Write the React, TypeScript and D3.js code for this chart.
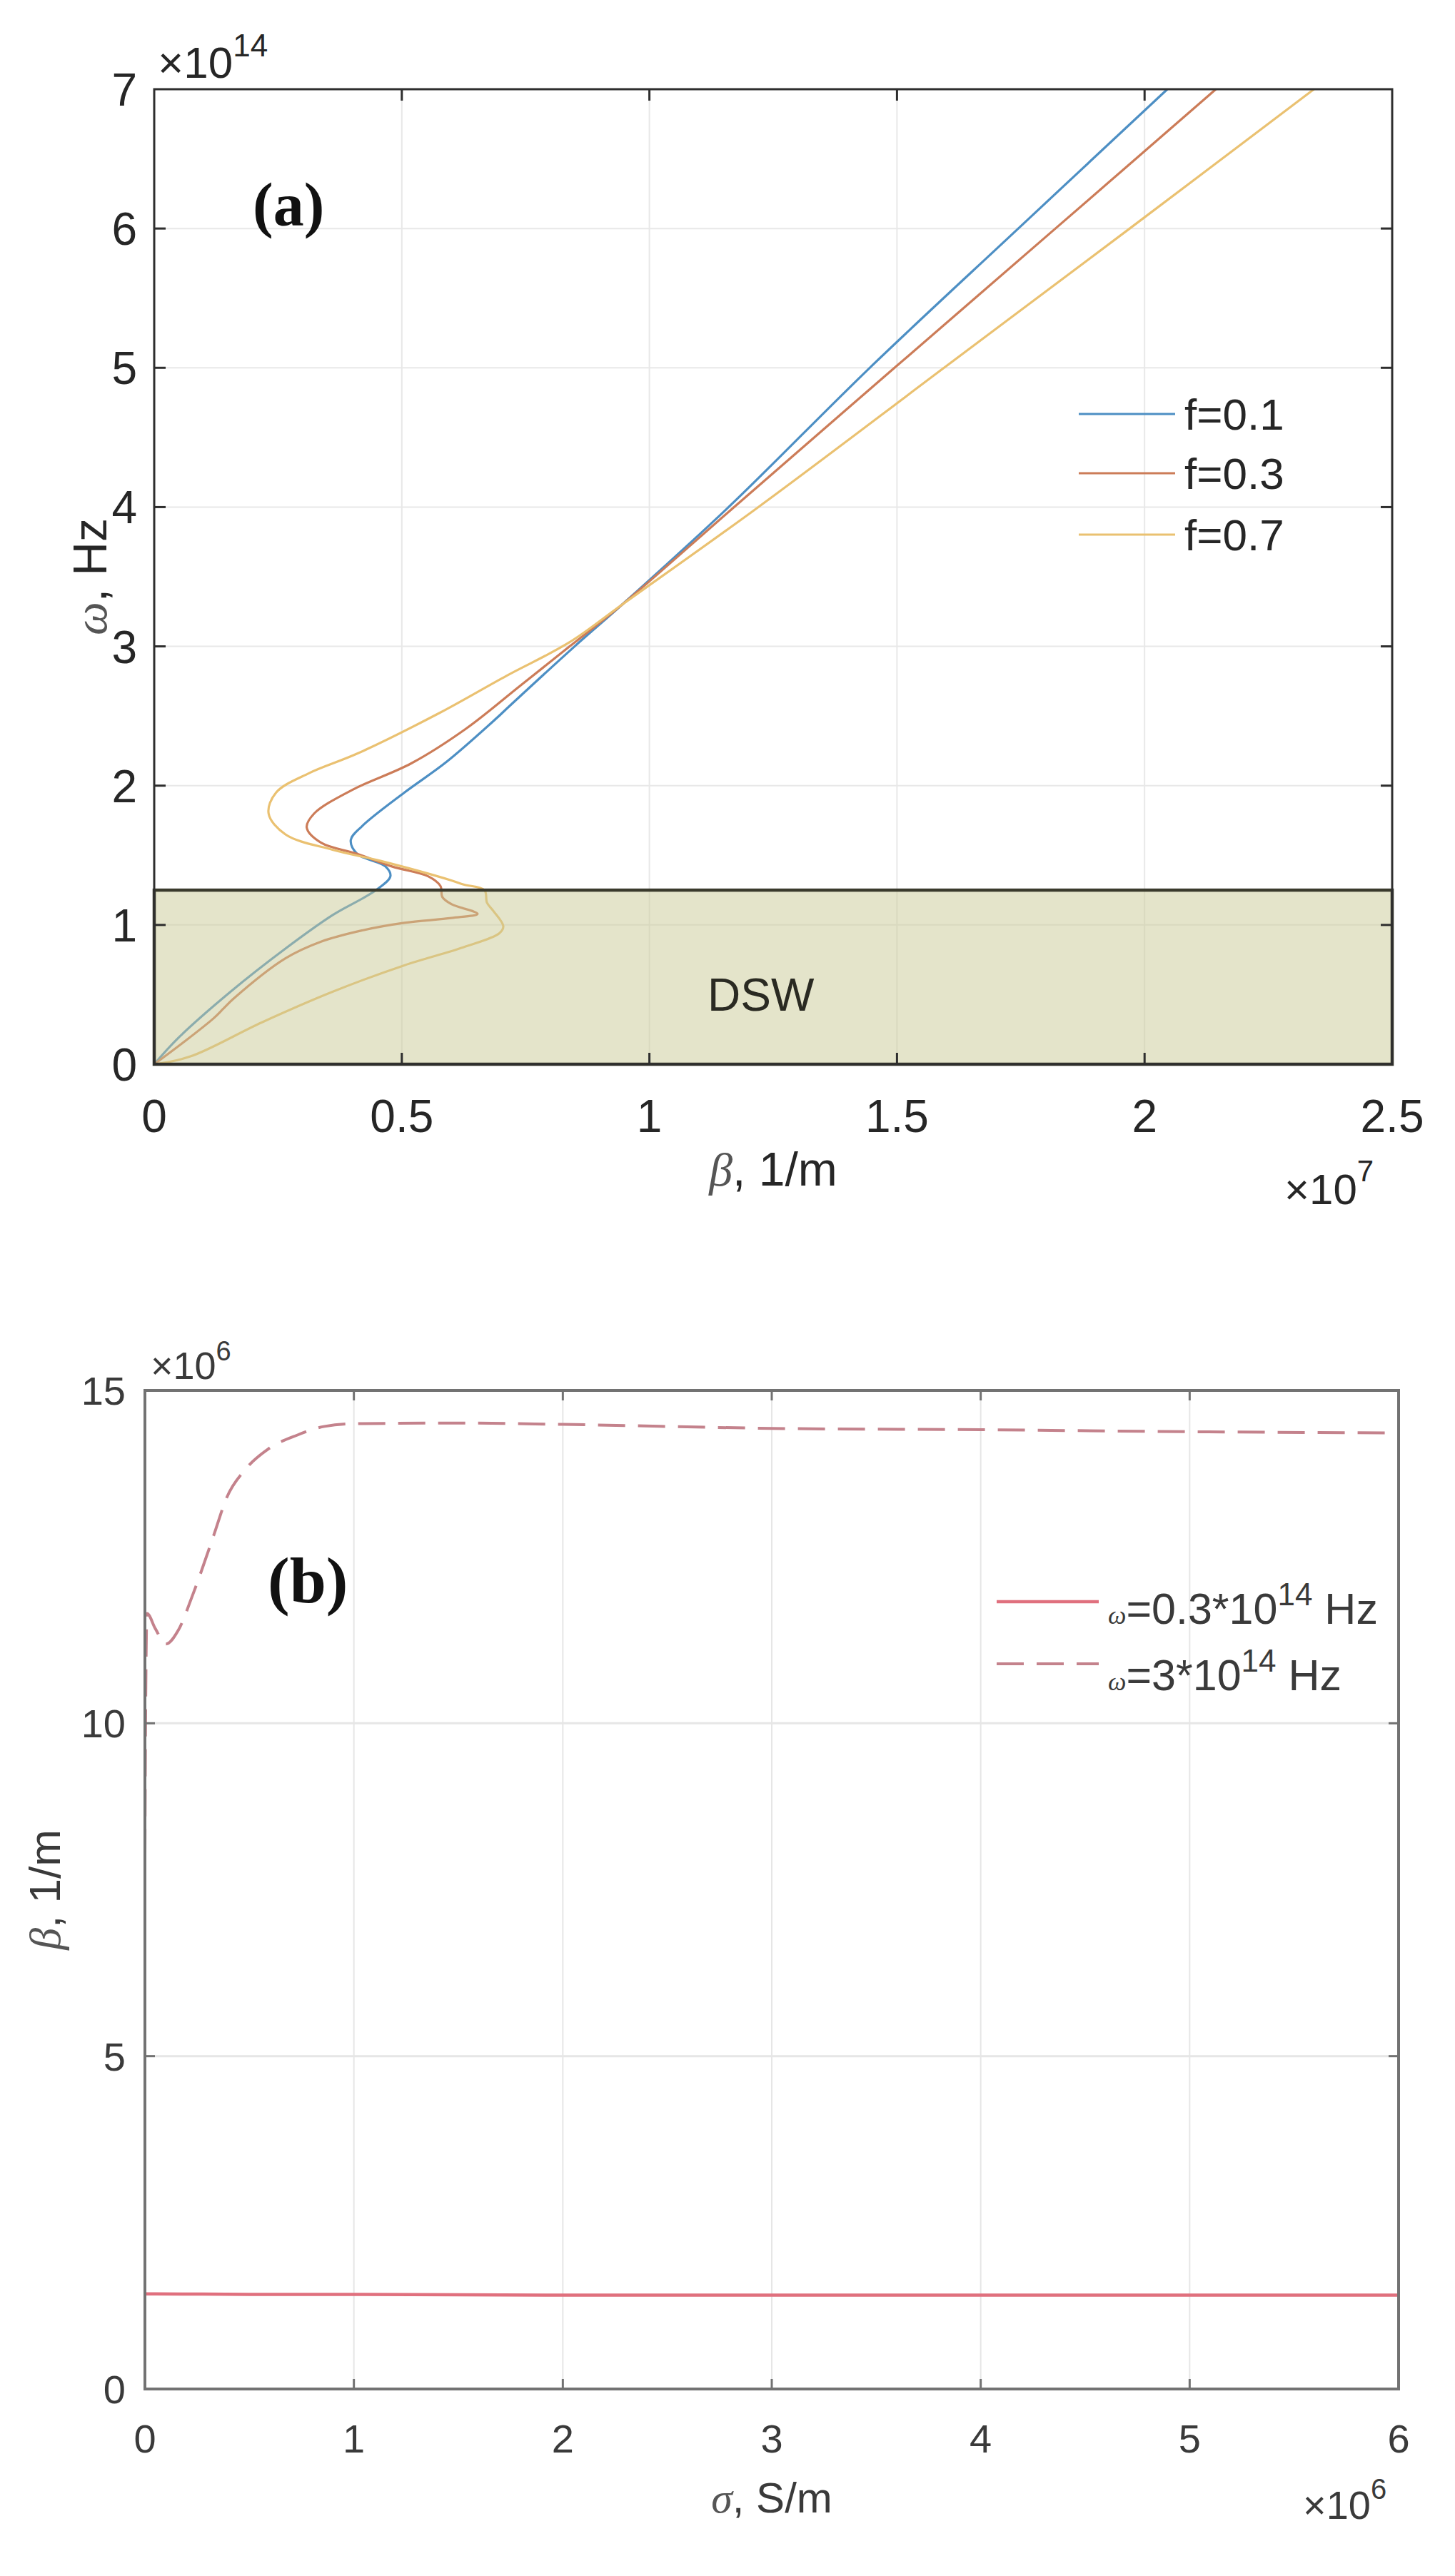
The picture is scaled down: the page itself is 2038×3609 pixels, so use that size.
import React, { useEffect } from 'react';
import * as d3 from 'd3';

const W = 2038;
const H = 3609;

// ---------- Panel (a): beta (x10^7 1/m) vs omega (x10^14 Hz) ----------
const betaF01 = [0, 0.049, 0.154, 0.265, 0.36, 0.448, 0.477, 0.467, 0.41, 0.397, 0.42, 0.505, 0.59, 0.69, 0.717, 0.849, 0.945, 1.16, 1.445, 1.745, 2.046];
const omegaF01 = [0, 0.19, 0.52, 0.83, 1.07, 1.25, 1.35, 1.42, 1.51, 1.61, 1.71, 1.95, 2.17, 2.48, 2.57, 3.0, 3.3, 4.0, 5.0, 6.0, 7.0];

const betaF03 = [0, 0.06, 0.12, 0.14, 0.16, 0.265, 0.337, 0.419, 0.505, 0.6, 0.653, 0.6, 0.582, 0.578, 0.553, 0.48, 0.41, 0.337, 0.308, 0.323, 0.4, 0.519, 0.63, 0.74, 0.839, 0.945, 1.171, 1.495, 1.82, 2.144];
const omegaF03 = [0, 0.16, 0.33, 0.4, 0.47, 0.76, 0.88, 0.96, 1.015, 1.05, 1.08, 1.15, 1.2, 1.28, 1.35, 1.42, 1.51, 1.59, 1.7, 1.8, 1.97, 2.16, 2.41, 2.72, 3.0, 3.3, 4.0, 5.0, 6.0, 7.0];

const betaF07 = [0, 0.073, 0.217, 0.36, 0.505, 0.625, 0.697, 0.705, 0.685, 0.672, 0.667, 0.625, 0.6, 0.457, 0.36, 0.265, 0.231, 0.246, 0.313, 0.41, 0.575, 0.712, 0.839, 0.945, 1.22, 1.595, 1.97, 2.342];
const omegaF07 = [0, 0.056, 0.3, 0.52, 0.71, 0.84, 0.94, 0.99, 1.1, 1.16, 1.25, 1.29, 1.32, 1.46, 1.54, 1.65, 1.8, 1.95, 2.09, 2.23, 2.52, 2.79, 3.03, 3.3, 4.0, 5.0, 6.0, 7.0];

const seriesA = [
  { label: 'f=0.1', beta: betaF01, omega: omegaF01, color: '#4d8fc4' },
  { label: 'f=0.3', beta: betaF03, omega: omegaF03, color: '#cc7c58' },
  { label: 'f=0.7', beta: betaF07, omega: omegaF07, color: '#eac171' },
];

const aXTicks = [0, 0.5, 1, 1.5, 2, 2.5];
const aXTickLabels = ['0', '0.5', '1', '1.5', '2', '2.5'];
const aYTicks = [0, 1, 2, 3, 4, 5, 6, 7];
const dswTop = 1.25;

// ---------- Panel (b): sigma (x10^6 S/m) vs beta (x10^6 1/m) ----------
const sigmaLow = [0, 0.05, 0.5, 1, 2, 3, 4, 5, 6];
const betaLow = [1.43, 1.43, 1.42, 1.42, 1.41, 1.41, 1.41, 1.41, 1.41];

const sigmaHigh = [0, 0.003, 0.01, 0.05, 0.1, 0.16, 0.23, 0.33, 0.39, 0.48, 0.59, 0.73, 0.86, 1.0, 1.5, 2, 3, 4, 5, 6];
const betaHigh = [8.0, 10.0, 11.65, 11.42, 11.19, 11.4, 11.94, 12.83, 13.38, 13.81, 14.12, 14.33, 14.46, 14.5, 14.51, 14.49, 14.43, 14.41, 14.38, 14.36];

const bXTicks = [0, 1, 2, 3, 4, 5, 6];
const bYTicks = [0, 5, 10, 15];

const SANS = "'Liberation Sans', Arial, Helvetica, sans-serif";
const SERIF = "'Liberation Serif', 'Times New Roman', serif";

export default function App() {
  useEffect(() => {
    document.body.style.margin = '0';
  }, []);

  // Panel (a) scales
  const xA = d3.scaleLinear().domain([0, 2.5]).range([216, 1950]);
  const yA = d3.scaleLinear().domain([0, 7]).range([1491, 125]);
  const lineA = d3
    .line<[number, number]>()
    .x((d) => xA(d[0]))
    .y((d) => yA(d[1]))
    .curve(d3.curveCatmullRom.alpha(0.5));

  // Panel (b) scales
  const xB = d3.scaleLinear().domain([0, 6]).range([203, 1959]);
  const yB = d3.scaleLinear().domain([0, 15]).range([3347, 1948]);
  const lineB = d3
    .line<[number, number]>()
    .x((d) => xB(d[0]))
    .y((d) => yB(d[1]))
    .curve(d3.curveMonotoneX);

  const [ax0, ax1] = xA.range();
  const [ay0, ay1] = yA.range();
  const [bx0, bx1] = xB.range();
  const [by0, by1] = yB.range();

  const gridA = '#e8e8e8';
  const gridB = '#e6e6e6';
  const axisA = '#2e2e2e';
  const axisB = '#727272';
  const textA = '#262626';
  const textB = '#3a3a3a';

  const legendA = [580, 663, 749];
  const legendB = [2244, 2331];

  return (
    <svg width={W} height={H} viewBox={`0 0 ${W} ${H}`} style={{ display: 'block', background: '#ffffff' }}>
      <rect x={0} y={0} width={W} height={H} fill="#ffffff" />

      {/* ================= Panel (a) ================= */}
      <g>
        {aXTicks.slice(1, -1).map((t) => (
          <line key={'agx' + t} x1={xA(t)} x2={xA(t)} y1={ay0} y2={ay1} stroke={gridA} strokeWidth={2} />
        ))}
        {aYTicks.slice(1, -1).map((t) => (
          <line key={'agy' + t} x1={ax0} x2={ax1} y1={yA(t)} y2={yA(t)} stroke={gridA} strokeWidth={2} />
        ))}

        {seriesA.map((s) => (
          <path
            key={s.label}
            d={lineA(s.beta.map((b, i) => [b, s.omega[i]] as [number, number])) || ''}
            fill="none"
            stroke={s.color}
            strokeWidth={3.2}
            strokeLinejoin="round"
          />
        ))}

        {/* DSW region */}
        <rect
          x={xA(0)}
          y={yA(dswTop)}
          width={xA(2.5) - xA(0)}
          height={yA(0) - yA(dswTop)}
          fill="#c9c996"
          fillOpacity={0.5}
          stroke="#3a3a2c"
          strokeWidth={4.5}
        />
        <text x={xA(1.225)} y={yA(0.5) + 23} textAnchor="middle" fontFamily={SANS} fontSize={64} fill="#2a2a22">
          DSW
        </text>

        {/* axes box */}
        <rect x={ax0} y={ay1} width={ax1 - ax0} height={ay0 - ay1} fill="none" stroke={axisA} strokeWidth={3} />
        {aXTicks.slice(1, -1).map((t) => (
          <g key={'atx' + t}>
            <line x1={xA(t)} x2={xA(t)} y1={ay0} y2={ay0 - 16} stroke={axisA} strokeWidth={3} />
            <line x1={xA(t)} x2={xA(t)} y1={ay1} y2={ay1 + 16} stroke={axisA} strokeWidth={3} />
          </g>
        ))}
        {aYTicks.slice(1, -1).map((t) => (
          <g key={'aty' + t}>
            <line x1={ax0} x2={ax0 + 16} y1={yA(t)} y2={yA(t)} stroke={axisA} strokeWidth={3} />
            <line x1={ax1} x2={ax1 - 16} y1={yA(t)} y2={yA(t)} stroke={axisA} strokeWidth={3} />
          </g>
        ))}

        {aXTicks.map((t, i) => (
          <text key={'axl' + t} x={xA(t)} y={1586} textAnchor="middle" fontFamily={SANS} fontSize={64} fill={textA}>
            {aXTickLabels[i]}
          </text>
        ))}
        {aYTicks.map((t) => (
          <text key={'ayl' + t} x={192} y={yA(t) + 23} textAnchor="end" fontFamily={SANS} fontSize={64} fill={textA}>
            {t}
          </text>
        ))}

        {/* exponents */}
        <text x={221} y={109} fontFamily={SANS} fontSize={62} fill={textA}>
          ×10<tspan dy={-30} fontSize={44}>14</tspan>
        </text>
        <text x={1799} y={1687} fontFamily={SANS} fontSize={60} fill={textA}>
          ×10<tspan dy={-32} fontSize={42}>7</tspan>
        </text>

        {/* axis labels */}
        <text x={(ax0 + ax1) / 2} y={1661} textAnchor="middle" fontFamily={SANS} fontSize={66} fill={textA}>
          <tspan fontFamily={SERIF} fontStyle="italic" fill="#555">β</tspan>, 1/m
        </text>
        <text
          transform={`translate(149, ${(ay0 + ay1) / 2}) rotate(-90)`}
          textAnchor="middle"
          fontFamily={SANS}
          fontSize={66}
          fill={textA}
        >
          <tspan fontFamily={SERIF} fontStyle="italic" fill="#555">ω</tspan>, Hz
        </text>

        {/* panel label */}
        <text x={354} y={316} fontFamily={SERIF} fontWeight="bold" fontSize={86} fill="#111">
          (a)
        </text>

        {/* legend */}
        {seriesA.map((s, i) => (
          <g key={'lga' + s.label}>
            <line x1={1511} x2={1646} y1={legendA[i]} y2={legendA[i]} stroke={s.color} strokeWidth={3.2} />
            <text x={1659} y={legendA[i] + 22} fontFamily={SANS} fontSize={62} fill={textA}>
              {s.label}
            </text>
          </g>
        ))}
      </g>

      {/* ================= Panel (b) ================= */}
      <g>
        {bXTicks.slice(1, -1).map((t) => (
          <line key={'bgx' + t} x1={xB(t)} x2={xB(t)} y1={by0} y2={by1} stroke={gridB} strokeWidth={2} />
        ))}
        {bYTicks.slice(1, -1).map((t) => (
          <line key={'bgy' + t} x1={bx0} x2={bx1} y1={yB(t)} y2={yB(t)} stroke={gridB} strokeWidth={3} />
        ))}

        <path
          d={lineB(sigmaLow.map((s, i) => [s, betaLow[i]] as [number, number])) || ''}
          fill="none"
          stroke="#e0707e"
          strokeWidth={4.5}
        />
        <path
          d={lineB(sigmaHigh.map((s, i) => [s, betaHigh[i]] as [number, number])) || ''}
          fill="none"
          stroke="#c4828c"
          strokeWidth={4}
          strokeDasharray="38 18"
        />

        <rect x={bx0} y={by1} width={bx1 - bx0} height={by0 - by1} fill="none" stroke={axisB} strokeWidth={4} />
        {bXTicks.slice(1, -1).map((t) => (
          <g key={'btx' + t}>
            <line x1={xB(t)} x2={xB(t)} y1={by0} y2={by0 - 14} stroke={axisB} strokeWidth={3} />
            <line x1={xB(t)} x2={xB(t)} y1={by1} y2={by1 + 14} stroke={axisB} strokeWidth={3} />
          </g>
        ))}
        {bYTicks.slice(1, -1).map((t) => (
          <g key={'bty' + t}>
            <line x1={bx0} x2={bx0 + 14} y1={yB(t)} y2={yB(t)} stroke={axisB} strokeWidth={3} />
            <line x1={bx1} x2={bx1 - 14} y1={yB(t)} y2={yB(t)} stroke={axisB} strokeWidth={3} />
          </g>
        ))}

        {bXTicks.map((t) => (
          <text key={'bxl' + t} x={xB(t)} y={3436} textAnchor="middle" fontFamily={SANS} fontSize={56} fill={textB}>
            {t}
          </text>
        ))}
        {bYTicks.map((t) => (
          <text key={'byl' + t} x={176} y={yB(t) + 20} textAnchor="end" fontFamily={SANS} fontSize={56} fill={textB}>
            {t}
          </text>
        ))}

        <text x={211} y={1932} fontFamily={SANS} fontSize={54} fill={textB}>
          ×10<tspan dy={-26} fontSize={38}>6</tspan>
        </text>
        <text x={1825} y={3529} fontFamily={SANS} fontSize={56} fill={textB}>
          ×10<tspan dy={-28} fontSize={40}>6</tspan>
        </text>

        <text x={(bx0 + bx1) / 2} y={3520} textAnchor="middle" fontFamily={SANS} fontSize={60} fill={textB}>
          <tspan fontFamily={SERIF} fontStyle="italic" fill="#555">σ</tspan>, S/m
        </text>
        <text
          transform={`translate(84, ${(by0 + by1) / 2}) rotate(-90)`}
          textAnchor="middle"
          fontFamily={SANS}
          fontSize={62}
          fill={textB}
        >
          <tspan fontFamily={SERIF} fontStyle="italic" fill="#555">β</tspan>, 1/m
        </text>

        <text x={375} y={2245} fontFamily={SERIF} fontWeight="bold" fontSize={92} fill="#111">
          (b)
        </text>

        {/* legend */}
        <line x1={1396} x2={1539} y1={legendB[0]} y2={legendB[0]} stroke="#e0707e" strokeWidth={4.5} />
        <text x={1552} y={legendB[0] + 31} fontFamily={SANS} fontSize={61} fill={textB}>
          <tspan fontFamily={SERIF} fontStyle="italic" fontSize={36}>ω</tspan>=0.3*10
          <tspan dy={-26} fontSize={44}>14</tspan>
          <tspan dy={26}>{' Hz'}</tspan>
        </text>
        <line x1={1396} x2={1539} y1={legendB[1]} y2={legendB[1]} stroke="#c4828c" strokeWidth={4} strokeDasharray="38 18" />
        <text x={1552} y={legendB[1] + 37} fontFamily={SANS} fontSize={61} fill={textB}>
          <tspan fontFamily={SERIF} fontStyle="italic" fontSize={36}>ω</tspan>=3*10
          <tspan dy={-26} fontSize={44}>14</tspan>
          <tspan dy={26}>{' Hz'}</tspan>
        </text>
      </g>
    </svg>
  );
}
